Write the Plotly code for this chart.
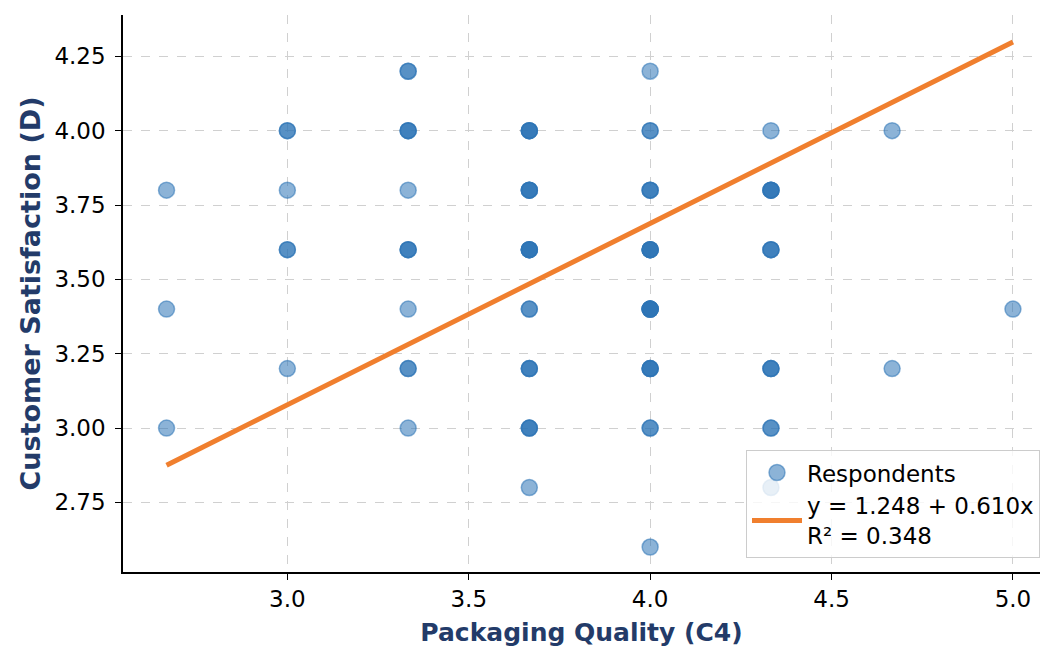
import plotly.graph_objects as go

# ---- data ----
x_levels = [2.667, 2.667, 2.667,
            3.0, 3.0, 3.0, 3.0,
            3.333, 3.333, 3.333, 3.333, 3.333, 3.333, 3.333,
            3.667, 3.667, 3.667, 3.667, 3.667, 3.667, 3.667,
            4.0, 4.0, 4.0, 4.0, 4.0, 4.0, 4.0, 4.0,
            4.333, 4.333, 4.333, 4.333, 4.333, 4.333,
            4.667, 4.667,
            5.0]
y_levels = [3.8, 3.4, 3.0,
            4.0, 3.8, 3.6, 3.2,
            4.2, 4.0, 3.8, 3.6, 3.4, 3.2, 3.0,
            4.0, 3.8, 3.6, 3.4, 3.2, 3.0, 2.8,
            4.2, 4.0, 3.8, 3.6, 3.4, 3.2, 3.0, 2.6,
            4.0, 3.8, 3.6, 3.2, 3.0, 2.8,
            4.0, 3.2,
            3.4]
counts = [1, 1, 1,
          2, 1, 2, 1,
          2, 3, 1, 3, 1, 2, 1,
          4, 4, 5, 2, 3, 3, 1,
          1, 2, 3, 5, 6, 4, 2, 1,
          1, 4, 3, 3, 2, 1,
          1, 1,
          1]
intercept = 1.248
slope = 0.610
r_squared = 0.348
x_ticks = [3.0, 3.5, 4.0, 4.5, 5.0]
y_ticks = [2.75, 3.00, 3.25, 3.50, 3.75, 4.00, 4.25]

# expand respondents
xs, ys = [], []
for xv, yv, c in zip(x_levels, y_levels, counts):
    xs += [xv] * c
    ys += [yv] * c

x_min, x_max = min(x_levels), max(x_levels)
line_x = [x_min, x_max]
line_y = [intercept + slope * v for v in line_x]

fig = go.Figure()
fig.add_trace(go.Scatter(
    x=xs, y=ys, mode="markers", name="Respondents",
    marker=dict(size=16, color="rgba(46,117,182,0.55)",
                line=dict(color="rgba(46,117,182,0.55)", width=1.5)),
))
fig.add_trace(go.Scatter(
    x=line_x, y=line_y, mode="lines",
    name=f"y = {intercept:.3f} + {slope:.3f}x<br>R² = {r_squared:.3f}",
    line=dict(color="#F07F2E", width=5),
))

font_main = "DejaVu Sans"
title_color = "#233B69"

fig.update_layout(
    width=1032, height=639,
    margin=dict(l=115, r=0, t=7, b=75, autoexpand=False),
    paper_bgcolor="white", plot_bgcolor="white",
    font=dict(family=font_main, size=22, color="black"),
    showlegend=True,
    legend=dict(
        x=1.0, y=0.025, xanchor="right", yanchor="bottom",
        bgcolor="rgba(255,255,255,0.8)", bordercolor="#cccccc", borderwidth=1,
        font=dict(family=font_main, size=23, color="black"),
        itemwidth=50, tracegroupgap=2,
    ),
    xaxis=dict(
        range=[2.547, 5.0746], tickvals=x_ticks, ticktext=[f"{v:.1f}" for v in x_ticks],
        showline=True, linecolor="black", linewidth=1.5, mirror=False,
        ticks="outside", ticklen=6, tickwidth=1.2, tickcolor="black",
        showgrid=True, gridcolor="#d0d0d0", griddash="dash", gridwidth=1,
        zeroline=False,
        title=dict(text="<b>Packaging Quality (C4)</b>",
                   font=dict(family=font_main, size=25, color=title_color), standoff=14),
        tickfont=dict(family=font_main, size=23),
    ),
    yaxis=dict(
        range=[2.516, 4.389], tickvals=y_ticks, ticktext=[f"{v:.2f}" for v in y_ticks],
        showline=True, linecolor="black", linewidth=1.5, mirror=False,
        ticks="outside", ticklen=6, tickwidth=1.2, tickcolor="black",
        ticklabelstandoff=5,
        showgrid=True, gridcolor="#d0d0d0", griddash="dash", gridwidth=1,
        zeroline=False,
        title=dict(text="<b>Customer Satisfaction (D)</b>",
                   font=dict(family=font_main, size=27, color=title_color), standoff=6),
        tickfont=dict(family=font_main, size=23),
    ),
)

fig.write_html("out.html")
